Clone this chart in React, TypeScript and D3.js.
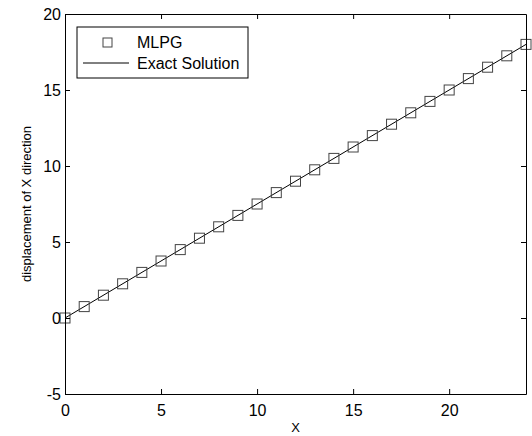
import React, { useEffect, useRef } from "react";
import * as d3 from "d3";

const xValues = [0, 1, 2, 3, 4, 5, 6, 7, 8, 9, 10, 11, 12, 13, 14, 15, 16, 17, 18, 19, 20, 21, 22, 23, 24];
const mlpgValues = [0, 0.75, 1.5, 2.25, 3, 3.75, 4.5, 5.25, 6, 6.75, 7.5, 8.25, 9, 9.75, 10.5, 11.25, 12, 12.75, 13.5, 14.25, 15, 15.75, 16.5, 17.25, 18];
const exactX = [0, 24];
const exactY = [0, 18];
const xTicks = [0, 5, 10, 15, 20];
const yTicks = [-5, 0, 5, 10, 15, 20];

export default function App() {
  const svgRef = useRef<SVGSVGElement>(null);

  useEffect(() => {
    const width = 532;
    const height = 436;
    const margin = { top: 14, right: 6, bottom: 42, left: 65 };
    const w = width - margin.left - margin.right;
    const h = height - margin.top - margin.bottom;

    const root = d3.select(svgRef.current);
    root.selectAll("*").remove();
    const svg = root.append("g").attr("transform", `translate(${margin.left},${margin.top})`);

    const x = d3.scaleLinear().domain([0, 24]).range([0, w]);
    const y = d3.scaleLinear().domain([-5, 20]).range([h, 0]);

    const font = "Arial, 'Liberation Sans', sans-serif";
    const fmt = (d: d3.NumberValue) => String(d);

    // exact solution line
    const line = d3
      .line<number>()
      .x((d) => x(d))
      .y((d, i) => y(exactY[i]));
    svg
      .append("path")
      .datum(exactX)
      .attr("d", line)
      .attr("fill", "none")
      .attr("stroke", "#000")
      .attr("stroke-width", 1);

    // MLPG markers
    const s = 10;
    svg
      .selectAll("rect.pt")
      .data(xValues)
      .enter()
      .append("rect")
      .attr("class", "pt")
      .attr("x", (d) => x(d) - s / 2)
      .attr("y", (d, i) => y(mlpgValues[i]) - s / 2)
      .attr("width", s)
      .attr("height", s)
      .attr("fill", "none")
      .attr("stroke", "#444")
      .attr("stroke-width", 1);

    // axes (inward ticks, matlab style)
    const tl = 5;
    const bottom = svg.append("g").attr("transform", `translate(0,${h})`)
      .call(d3.axisBottom(x).tickValues(xTicks).tickSizeInner(-tl).tickSizeOuter(0).tickPadding(10).tickFormat(fmt));
    const top = svg.append("g")
      .call(d3.axisTop(x).tickValues(xTicks).tickSizeInner(-tl).tickSizeOuter(0).tickFormat(() => ""));
    const left = svg.append("g")
      .call(d3.axisLeft(y).tickValues(yTicks).tickSizeInner(-tl).tickSizeOuter(0).tickPadding(4).tickFormat(fmt));
    const right = svg.append("g").attr("transform", `translate(${w},0)`)
      .call(d3.axisRight(y).tickValues(yTicks).tickSizeInner(-tl).tickSizeOuter(0).tickFormat(() => ""));

    [bottom, top, left, right].forEach((g) => {
      g.selectAll("path").attr("stroke", "#000").attr("stroke-width", 1);
      g.selectAll("line").attr("stroke", "#000");
      g.selectAll("text").attr("font-family", font).attr("font-size", 16).attr("fill", "#000");
    });
    bottom.selectAll("text").attr("dy", "0.72em");
    left.selectAll("text").attr("dy", "0.36em");

    // axis labels
    svg
      .append("text")
      .attr("x", x(12))
      .attr("y", h + 38)
      .attr("text-anchor", "middle")
      .attr("font-family", font)
      .attr("font-size", 13)
      .text("X");
    svg
      .append("text")
      .attr("transform", `translate(${-34},${h / 2}) rotate(-90)`)
      .attr("text-anchor", "middle")
      .attr("font-family", font)
      .attr("font-size", 13)
      .text("displacement of X direction");

    // legend
    const lg = svg.append("g").attr("transform", "translate(12,13)");
    lg.append("rect")
      .attr("width", 171)
      .attr("height", 51)
      .attr("fill", "#fff")
      .attr("stroke", "#000")
      .attr("stroke-width", 1);
    lg.append("rect")
      .attr("x", 26)
      .attr("y", 11)
      .attr("width", 9)
      .attr("height", 9)
      .attr("fill", "none")
      .attr("stroke", "#444");
    lg.append("line")
      .attr("x1", 6)
      .attr("x2", 52)
      .attr("y1", 36)
      .attr("y2", 36)
      .attr("stroke", "#000");
    lg.append("text")
      .attr("x", 60)
      .attr("y", 21)
      .attr("font-family", font)
      .attr("font-size", 16)
      .text("MLPG");
    lg.append("text")
      .attr("x", 60)
      .attr("y", 42)
      .attr("font-family", font)
      .attr("font-size", 16)
      .text("Exact Solution");
  }, []);

  return (
    <svg
      ref={svgRef}
      width={532}
      height={436}
      style={{ position: "absolute", left: 0, top: 0, background: "#fff" }}
    />
  );
}
